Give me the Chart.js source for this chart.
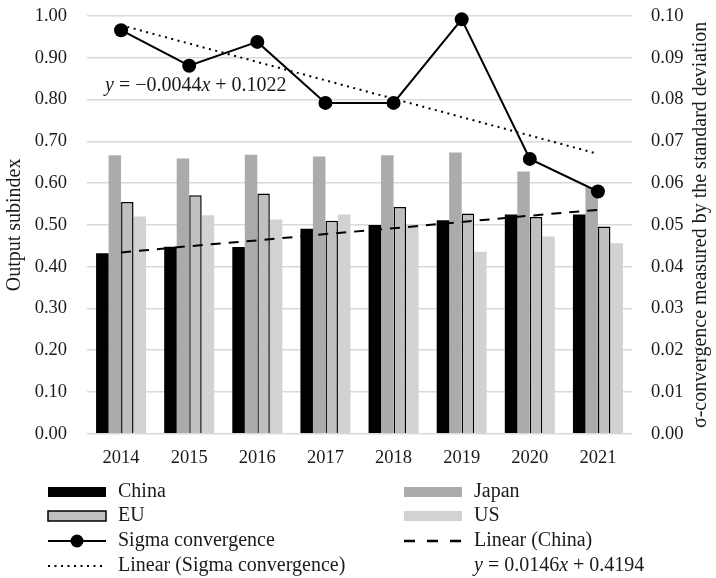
<!DOCTYPE html>
<html>
<head>
<meta charset="utf-8">
<script src="https://cdn.jsdelivr.net/npm/chart.js@4"></script>
<style>
  html, body { margin: 0; padding: 0; background: #fff; }
  #wrap { width: 716px; height: 578px; }
</style>
</head>
<body>
<div id="wrap"><canvas id="myChart" width="716" height="578"></canvas></div>
<script>
const years = ['2014', '2015', '2016', '2017', '2018', '2019', '2020', '2021'];

const china = [0.432, 0.448, 0.447, 0.491, 0.500, 0.511, 0.525, 0.525];
const japan = [0.667, 0.659, 0.668, 0.664, 0.667, 0.673, 0.628, 0.590];
const eu = [0.555, 0.571, 0.575, 0.510, 0.543, 0.527, 0.519, 0.496];
const us = [0.520, 0.523, 0.513, 0.525, 0.499, 0.436, 0.472, 0.456];

const sigma = [0.0966, 0.0881, 0.0938, 0.0792, 0.0792, 0.0992, 0.0658, 0.0580];
const sigmaTrend = [0.0978, 0.0934, 0.0890, 0.0846, 0.0802, 0.0758, 0.0714, 0.0670];
const chinaTrend = [0.434, 0.449, 0.463, 0.478, 0.492, 0.507, 0.522, 0.536];

const leftTicks = ['0.00', '0.10', '0.20', '0.30', '0.40', '0.50', '0.60', '0.70', '0.80', '0.90', '1.00'];
const rightTicks = ['0.00', '0.01', '0.02', '0.03', '0.04', '0.05', '0.06', '0.07', '0.08', '0.09', '0.10'];

const serif = "'Liberation Serif', 'DejaVu Serif', serif";
const ink = '#1a1a1a';
const txt = '20px ' + serif;

// legend, axis titles and equations drawn straight on the canvas
const extras = {
  id: 'extras',
  afterDraw(chart) {
    const c = chart.ctx;
    const area = chart.chartArea;
    const midY = (area.top + area.bottom) / 2;
    c.save();
    c.fillStyle = ink;
    c.font = txt;
    c.textAlign = 'center';
    c.textBaseline = 'middle';

    // axis titles, both read bottom to top
    c.save();
    c.translate(15, midY);
    c.rotate(-Math.PI / 2);
    c.fillText('Output subindex', 0, 0);
    c.restore();
    c.save();
    c.translate(701, midY);
    c.rotate(-Math.PI / 2);
    c.fillText('\u03c3-convergence measured by the standard deviation', 0, 0);
    c.restore();

    c.textAlign = 'left';
    drawEquation(c, 105, 86, '\u2212', '0.0044', '0.1022');

    const rows = [492, 516, 541, 566];
    const c1 = 48, c2 = 404, w = 58, tx1 = 118, tx2 = 474;

    // China
    c.fillStyle = '#000';
    c.fillRect(c1, rows[0] - 5, w, 10);
    // EU
    c.fillStyle = '#bfbfbf';
    c.fillRect(c1, rows[1] - 5, w, 10);
    c.strokeStyle = '#000';
    c.lineWidth = 1.5;
    c.strokeRect(c1, rows[1] - 5, w, 10);
    // Sigma
    c.lineWidth = 2;
    c.beginPath();
    c.moveTo(c1, rows[2]);
    c.lineTo(c1 + w, rows[2]);
    c.stroke();
    c.fillStyle = '#000';
    c.beginPath();
    c.arc(c1 + w / 2, rows[2], 6.5, 0, Math.PI * 2);
    c.fill();
    // Linear sigma
    c.lineWidth = 2;
    c.setLineDash([2, 4.5]);
    c.beginPath();
    c.moveTo(c1, rows[3]);
    c.lineTo(c1 + w, rows[3]);
    c.stroke();
    c.setLineDash([]);

    // Japan
    c.fillStyle = '#ababab';
    c.fillRect(c2, rows[0] - 5, w, 10);
    // US
    c.fillStyle = '#d2d2d2';
    c.fillRect(c2, rows[1] - 5, w, 10);
    // Linear China
    c.lineWidth = 2.5;
    c.setLineDash([11, 12]);
    c.beginPath();
    c.moveTo(c2, rows[2]);
    c.lineTo(c2 + w, rows[2]);
    c.stroke();
    c.setLineDash([]);

    c.fillStyle = ink;
    c.font = txt;
    c.fillText('China', tx1, rows[0]);
    c.fillText('EU', tx1, rows[1]);
    c.fillText('Sigma convergence', tx1, rows[2]);
    c.fillText('Linear (Sigma convergence)', tx1, rows[3]);
    c.fillText('Japan', tx2, rows[0]);
    c.fillText('US', tx2, rows[1]);
    c.fillText('Linear (China)', tx2, rows[2]);
    drawEquation(c, tx2, rows[3], '', '0.0146', '0.4194');
    c.restore();
  }
};

function drawEquation(c, x, y, sign, a, b) {
  const it = 'italic ' + txt;
  let parts = [[it, 'y'], [txt, ' = ' + sign + a], [it, 'x'], [txt, ' + ' + b]];
  parts.forEach(p => {
    c.font = p[0];
    c.fillText(p[1], x, y);
    x += c.measureText(p[1]).width;
  });
}

// keep the tick padding from pushing the plot area down
function fitAxis(width) {
  return s => {
    s.width = width;
    s.paddingTop = 0;
    s.paddingBottom = 0;
  };
}

const ctx = document.getElementById('myChart');

const myChart = new Chart(ctx, {
  data: {
    labels: years,
    datasets: [
      { type: 'line', label: 'Sigma convergence', data: sigma, yAxisID: 'y1', order: 0, clip: false,
        borderColor: '#000', backgroundColor: '#000', borderWidth: 2,
        pointRadius: 7, pointBackgroundColor: '#000', pointBorderWidth: 0 },
      { type: 'line', label: 'Linear (Sigma convergence)', data: sigmaTrend, yAxisID: 'y1', order: 0,
        borderColor: '#000', borderWidth: 2, borderDash: [2, 4.5], pointRadius: 0, fill: false },
      { type: 'line', label: 'Linear (China)', data: chinaTrend, yAxisID: 'y', order: 0,
        borderColor: '#000', borderWidth: 2, borderDash: [10, 8], pointRadius: 0, fill: false },
      { type: 'bar', label: 'China', data: china, order: 1, backgroundColor: '#000' },
      { type: 'bar', label: 'Japan', data: japan, order: 1, backgroundColor: '#ababab' },
      { type: 'bar', label: 'EU', data: eu, order: 1, backgroundColor: '#bfbfbf',
        borderColor: '#000', borderWidth: 1.5 },
      { type: 'bar', label: 'US', data: us, order: 1, backgroundColor: '#d2d2d2' }
    ]
  },
  options: {
    responsive: false,
    animation: false,
    layout: { padding: { top: 16, bottom: 104, left: 0, right: 0 } },
    datasets: { bar: { barPercentage: 1, categoryPercentage: 0.734 } },
    plugins: { legend: { display: false }, tooltip: { enabled: false } },
    scales: {
      x: {
        grid: { display: false },
        border: { display: false },
        ticks: { color: ink, font: { family: serif, size: 18.5 }, padding: 5 }
      },
      y: {
        position: 'left', min: 0, max: 1,
        afterFit: fitAxis(87),
        grid: { color: '#d9d9d9', lineWidth: 1.5, drawTicks: false },
        border: { display: false },
        ticks: { stepSize: 0.1, color: ink, padding: 20, font: { family: serif, size: 18.5 },
          callback: (v, i) => leftTicks[i] }
      },
      y1: {
        position: 'right', min: 0, max: 0.1,
        afterFit: fitAxis(84),
        grid: { display: false, drawTicks: false },
        border: { display: false },
        ticks: { stepSize: 0.01, color: ink, padding: 19, font: { family: serif, size: 18.5 },
          callback: (v, i) => rightTicks[i] }
      }
    }
  },
  plugins: [extras]
});
</script>
</body>
</html>
